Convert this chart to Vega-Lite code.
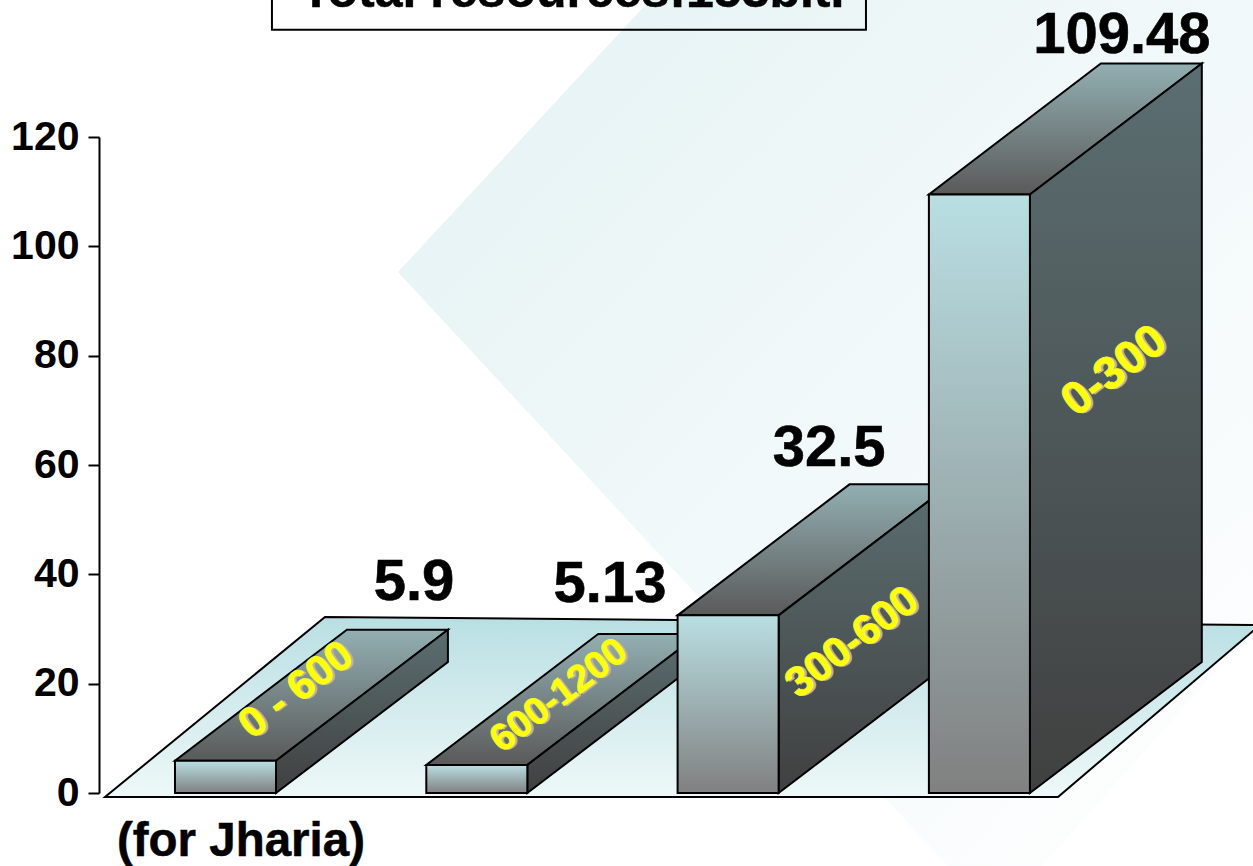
{
  "$schema": "https://vega.github.io/schema/vega-lite/v6.json",
  "width": 1154,
  "height": 656,
  "autosize": "none",
  "padding": {"left": 99, "top": 137, "right": 0, "bottom": 73},
  "background": "white",
  "config": {"view": {"stroke": null}, "font": "Liberation Sans"},
  "datasets": {
    "reserves": [
      {"range": "0 - 600", "slot": 0, "value": 5.9},
      {"range": "600-1200", "slot": 1, "value": 5.13},
      {"range": "300-600", "slot": 2, "value": 32.5},
      {"range": "0-300", "slot": 3, "value": 109.48}
    ],
    "backdrop": [
      {"u": 0.8874, "upper": 95.3, "lower": 95.3},
      {"u": 1.8902, "upper": 145.05, "lower": 45.5},
      {"u": 3.076, "upper": 145.05, "lower": -13.35},
      {"u": 3.45, "upper": 145.05, "lower": -13.35},
      {"u": 4.2897, "upper": 145.05, "lower": 29.8}
    ],
    "floor": [
      {"u": -0.2786, "upper": -0.73, "lower": -0.73},
      {"u": 0.5969, "upper": 32.19, "lower": -0.73},
      {"u": 3.5137, "upper": 31.04, "lower": -0.73},
      {"u": 4.3176, "upper": 30.73, "lower": 30.73}
    ],
    "titleBox": [{"u0": 0.3858, "u1": 2.7496, "v0": 139.6, "v1": 147}],
    "notes": [
      {"text": "Total resources:153bit.", "u": 1.582, "v": 143.8, "size": 50},
      {"text": "(for Jharia)", "u": 0.2626, "v": -11.6, "size": 47.5}
    ]
  },
  "encoding": {
    "x": {"type": "quantitative", "scale": {"domain": [-0.3024, 4.2897], "nice": false, "zero": false}, "axis": null}
  },
  "layer": [
    {
      "data": {"name": "backdrop"},
      "mark": {"type": "area", "clip": false, "color": {"gradient": "linear", "x1": 0, "y1": 0, "x2": 1, "y2": 1, "stops": [{"offset": 0, "color": "#e4f2f4"}, {"offset": 1, "color": "#ffffff"}]}},
      "encoding": {
        "x": {"field": "u", "type": "quantitative"},
        "y": {"field": "upper", "type": "quantitative", "scale": {"domain": [0, 120], "nice": false, "zero": false},
          "axis": {"title": null, "values": [0, 20, 40, 60, 80, 100, 120], "grid": false, "domainColor": "black", "domainWidth": 2, "tickColor": "black", "tickWidth": 2, "tickSize": 11, "labelFontSize": 41, "labelFontWeight": "bold", "labelColor": "black", "labelFont": "Liberation Sans", "labelPadding": 9, "labelFlush": false, "labelOverlap": false}},
        "y2": {"field": "lower"}
      }
    },
    {
      "data": {"name": "floor"},
      "mark": {"type": "area", "stroke": "black", "strokeWidth": 2, "color": {"gradient": "linear", "x1": 0, "y1": 0, "x2": 0, "y2": 1, "stops": [{"offset": 0, "color": "#b9dfe3"}, {"offset": 1, "color": "#eef8f8"}]}},
      "encoding": {
        "x": {"field": "u", "type": "quantitative"},
        "y": {"field": "upper", "type": "quantitative"},
        "y2": {"field": "lower"}
      }
    },
    {
      "data": {"name": "titleBox"},
      "mark": {"type": "rect", "fill": "transparent", "stroke": "black", "strokeWidth": 2},
      "encoding": {
        "x": {"field": "u0", "type": "quantitative"},
        "x2": {"field": "u1"},
        "y": {"field": "v0", "type": "quantitative"},
        "y2": {"field": "v1"}
      }
    },
    {
      "data": {"name": "notes"},
      "mark": {"type": "text", "fontWeight": "bold", "color": "black", "stroke": "black", "strokeWidth": 0.5, "align": "center", "baseline": "alphabetic"},
      "encoding": {
        "x": {"field": "u", "type": "quantitative"},
        "y": {"field": "v", "type": "quantitative"},
        "text": {"field": "text"},
        "size": {"field": "size", "type": "quantitative", "scale": null}
      }
    },
    {
      "data": {"name": "reserves"},
      "transform": [
        {"calculate": "[0, 1]", "as": "t"},
        {"flatten": ["t"]},
        {"calculate": "datum.slot + datum.t * 0.684", "as": "left"},
        {"calculate": "datum.slot + 0.402 + datum.t * 0.684", "as": "right"},
        {"calculate": "datum.value + datum.t * 23.96", "as": "roof"}
      ],
      "layer": [
        {
          "mark": {"type": "area", "orient": "horizontal", "stroke": "black", "strokeWidth": 2, "color": {"gradient": "linear", "x1": 0, "y1": 1, "x2": 0, "y2": 0, "stops": [{"offset": 0, "color": "#5a5a5a"}, {"offset": 1, "color": "#92afb2"}]}},
          "encoding": {
            "detail": {"field": "range"},
            "y": {"field": "roof", "type": "quantitative"},
            "x": {"field": "left", "type": "quantitative"},
            "x2": {"field": "right"}
          }
        },
        {
          "transform": [{"calculate": "datum.t * 23.96", "as": "foot"}],
          "mark": {"type": "area", "stroke": "black", "strokeWidth": 2, "color": {"gradient": "linear", "x1": 0, "y1": 0, "x2": 0, "y2": 1, "stops": [{"offset": 0, "color": "#5b6e71"}, {"offset": 1, "color": "#404040"}]}},
          "encoding": {
            "detail": {"field": "range"},
            "x": {"field": "right", "type": "quantitative"},
            "y": {"field": "foot", "type": "quantitative"},
            "y2": {"field": "roof"}
          }
        }
      ]
    },
    {
      "data": {"name": "reserves"},
      "transform": [
        {"calculate": "datum.slot + 0.402", "as": "right"},
        {"calculate": "0", "as": "base"}
      ],
      "mark": {"type": "rect", "stroke": "black", "strokeWidth": 2, "color": {"gradient": "linear", "x1": 0, "y1": 0, "x2": 0, "y2": 1, "stops": [{"offset": 0, "color": "#b9dfe3"}, {"offset": 1, "color": "#808080"}]}},
      "encoding": {
        "x": {"field": "slot", "type": "quantitative"},
        "x2": {"field": "right"},
        "y": {"field": "value", "type": "quantitative"},
        "y2": {"field": "base"}
      }
    },
    {
      "data": {"name": "reserves"},
      "transform": [
        {"calculate": "{'0 - 600': 0.951, '600-1200': 1.731, '300-600': 2.603, '0-300': 3.768}[datum.range]", "as": "labelU"},
        {"calculate": "{'0 - 600': 35.3, '600-1200': 34.9, '300-600': 59.8, '0-300': 135.4}[datum.range]", "as": "labelV"},
        {"calculate": "format(datum.value, '.10~f')", "as": "labelText"}
      ],
      "mark": {"type": "text", "fontWeight": "bold", "fontSize": 58, "color": "black", "stroke": "black", "strokeWidth": 0.6, "align": "center", "baseline": "alphabetic"},
      "encoding": {
        "x": {"field": "labelU", "type": "quantitative"},
        "y": {"field": "labelV", "type": "quantitative"},
        "text": {"field": "labelText"}
      }
    },
    {
      "data": {"name": "reserves"},
      "transform": [
        {"calculate": "{'0 - 600': 0.4815, '600-1200': 1.528, '300-600': 2.694, '0-300': 3.737}[datum.range]", "as": "tagU"},
        {"calculate": "{'0 - 600': 18.84, '600-1200': 17.75, '300-600': 27.6, '0-300': 77.2}[datum.range]", "as": "tagV"},
        {"calculate": "datum.range === '600-1200' ? 38 : datum.range === '0-300' ? 46 : 42", "as": "tagSize"}
      ],
      "encoding": {
        "x": {"field": "tagU", "type": "quantitative"},
        "y": {"field": "tagV", "type": "quantitative"},
        "text": {"field": "range"},
        "size": {"field": "tagSize", "type": "quantitative", "scale": null}
      },
      "layer": [
        {"mark": {"type": "text", "fontWeight": "bold", "angle": -37.3, "color": "#b8b8b8", "stroke": "#b8b8b8", "strokeWidth": 0.4, "align": "center", "baseline": "middle", "dx": 2, "dy": 2}},
        {"mark": {"type": "text", "fontWeight": "bold", "angle": -37.3, "color": "#ffff00", "stroke": "#ffff00", "strokeWidth": 0.8, "align": "center", "baseline": "middle"}}
      ]
    }
  ]
}
